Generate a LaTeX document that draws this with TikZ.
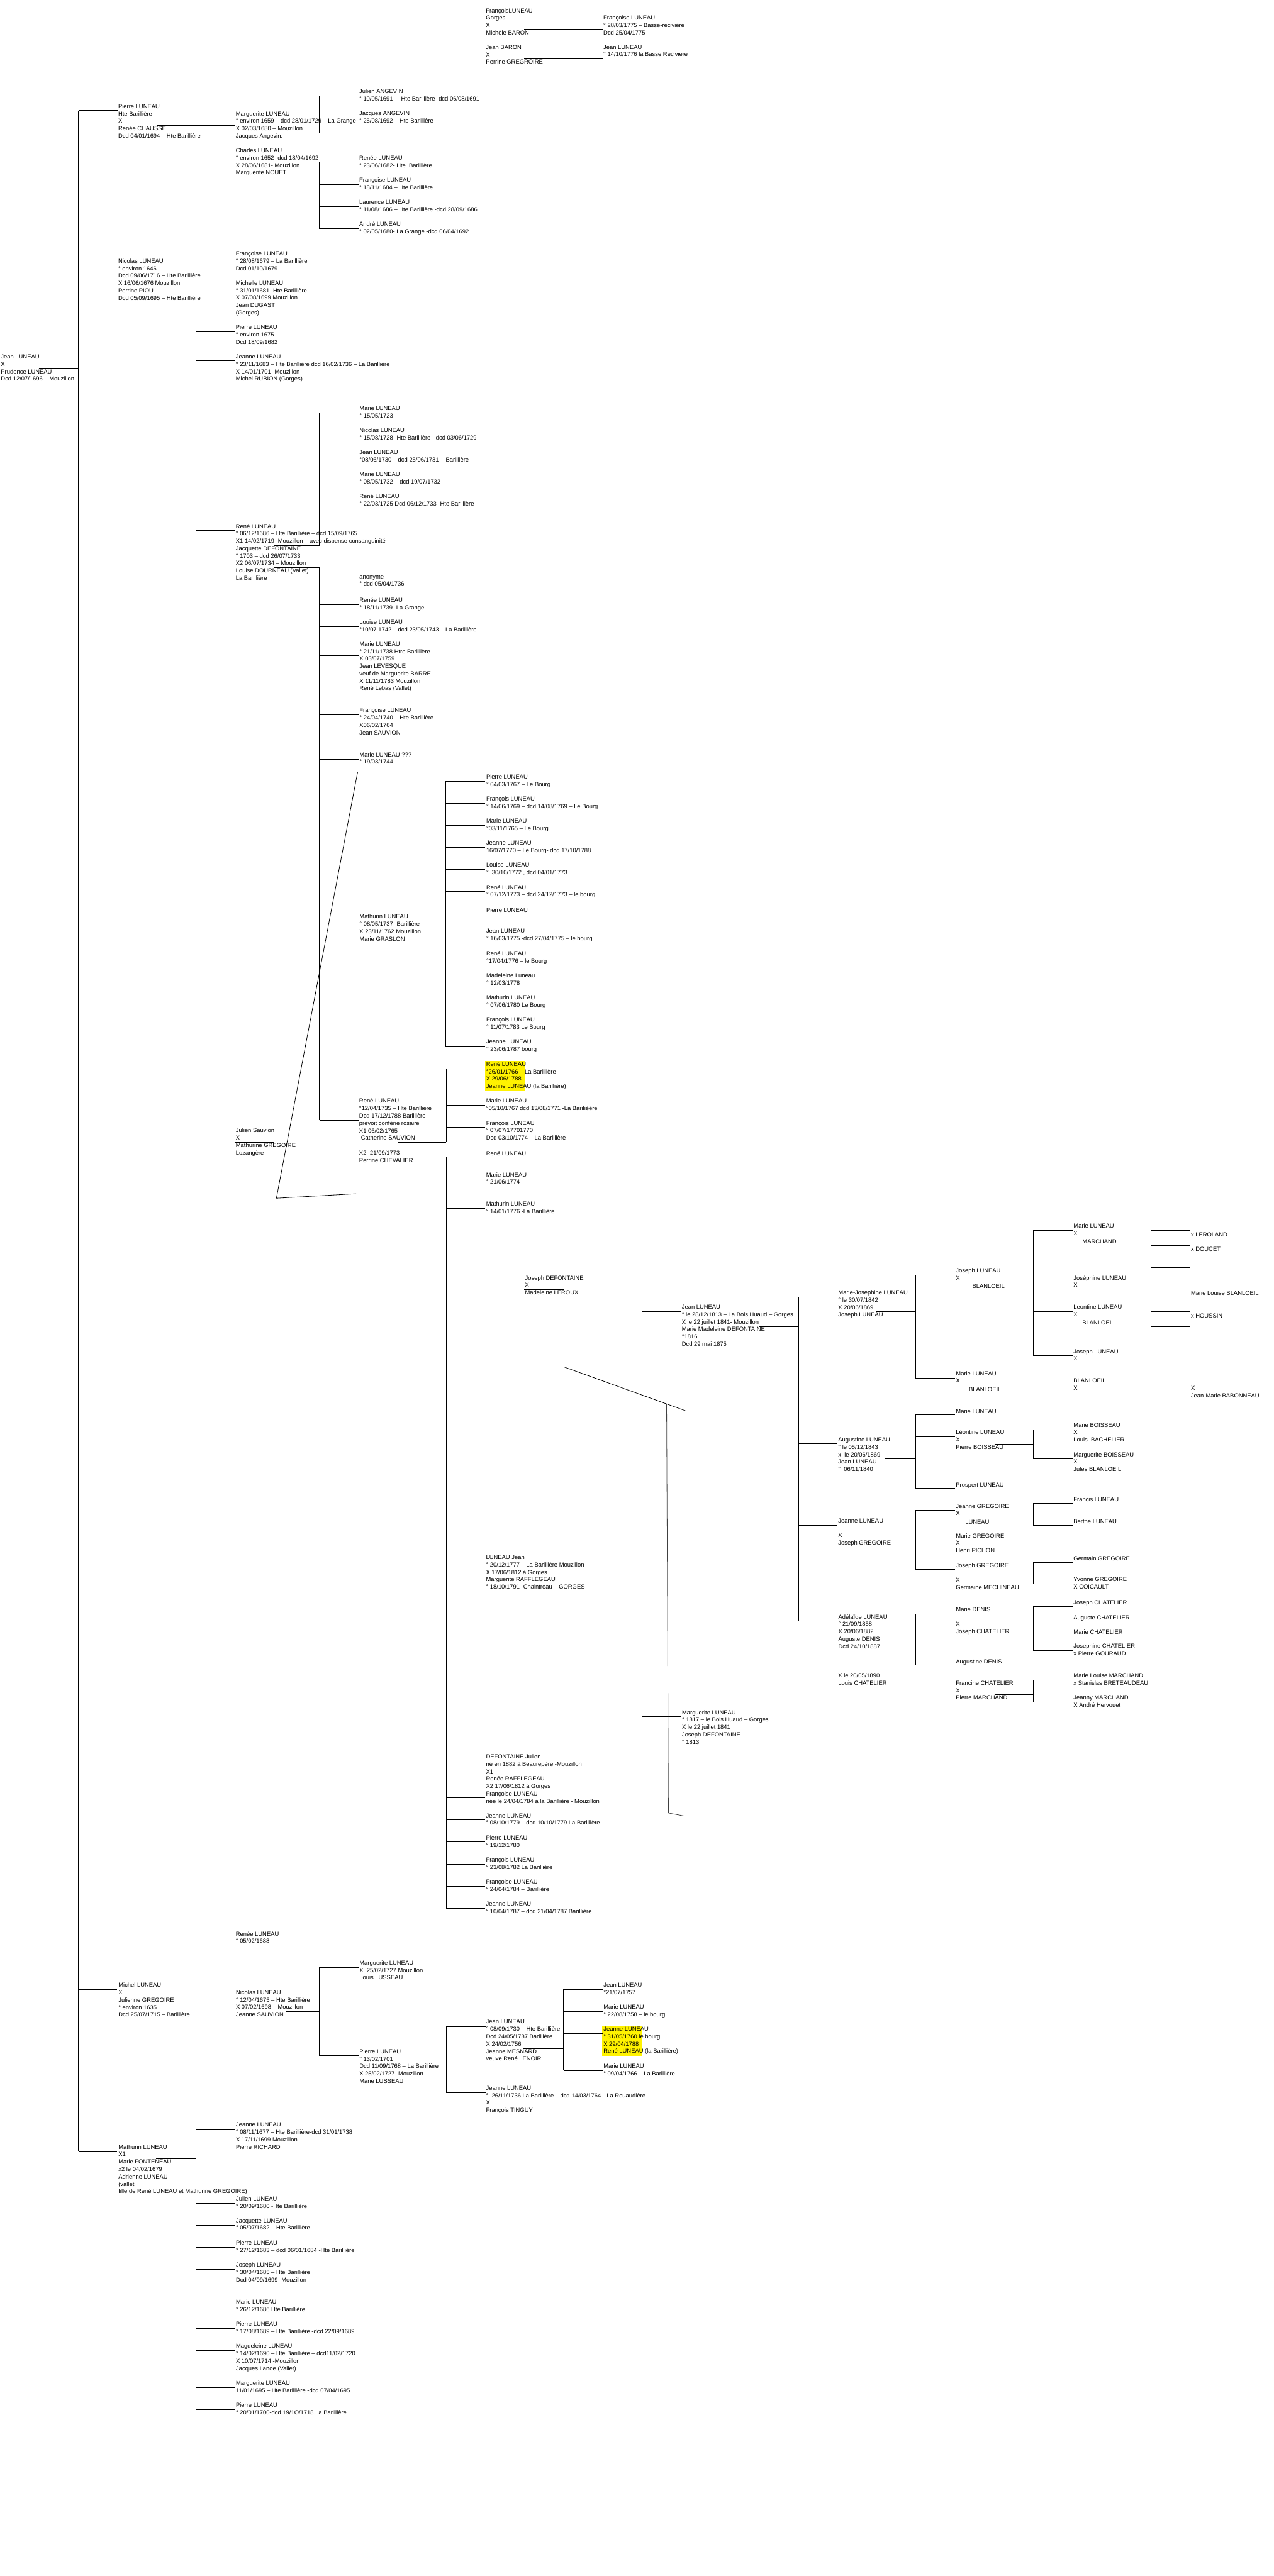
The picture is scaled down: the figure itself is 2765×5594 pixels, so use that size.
\documentclass[tikz,border=0pt]{standalone}
\usepackage{fontspec}
\setmainfont{Liberation Sans}
\newcommand\Hln[3]{\draw[ln] (#2,#1) -- (#3,#1);}
\newcommand\Vln[3]{\draw[ln] (#1,#2) -- (#1,#3);}
\tikzset{
  tx/.style={anchor=north west, inner sep=0pt, outer sep=0pt, align=left,
    font=\fontsize{6.425}{8.035}\selectfont, execute at begin node=\strut, yshift=3.375pt},
  ln/.style={line width=0.65pt, black},
  hlite/.style={fill=yellow}
}
\begin{document}
\begin{tikzpicture}[x=0.5pt,y=-0.5pt]
\fill[white] (0,0) rectangle (2765,5594);
\useasboundingbox (0,0) rectangle (2765,5594);
% highlights
\fill[hlite] (1052.8,2304) rectangle (1139,2369);
\fill[hlite] (1307.6,4400) rectangle (1394.4,4465);

% ---------- top ----------
\node[tx] (tA) at (1055,25) {FrançoisLUNEAU\\Gorges\\X\\Michèle BARON};
\node[tx] (tB) at (1310,40.7) {Françoise LUNEAU\\° 28/03/1775 – Basse-recivière\\Dcd 25/04/1775};
\node[tx] (tC) at (1055,104.7) {Jean BARON\\X\\Perrine GREGROIRE};
\node[tx] (tD) at (1310,104.7) {Jean LUNEAU\\° 14/10/1776 la Basse Recivière};
\Hln{63.7}{1138}{1308.7}
\Hln{127.7}{1138}{1308.7}

% ---------- root ----------
\node[tx] (root) at (2,777) {Jean LUNEAU\\X\\Prudence LUNEAU\\Dcd 12/07/1696 – Mouzillon};
\Hln{800}{84}{170.5}
\Vln{170.5}{240.2}{4672.3}

% ---------- Pierre ----------
\node[tx] (pierre) at (256.8,232.8) {Pierre LUNEAU\\Hte Barillière\\X\\Renée CHAUSSE\\Dcd 04/01/1694 – Hte Barillière};
\Hln{240.2}{170.5}{256.8}
\Hln{272.3}{340}{510}
\Vln{425}{272.3}{352.2}
\node[tx] (marg) at (512,248.9) {Marguerite LUNEAU\\° environ 1659 – dcd 28/01/1729 – La Grange\\X 02/03/1680 – Mouzillon\\Jacques Angevin.};
\Hln{288.4}{596}{693}
\Vln{693}{208.5}{288.4}
\Hln{208.5}{693}{778.7}
\Hln{256.7}{693}{778.7}
\node[tx] (julang) at (780,200.7) {Julien ANGEVIN\\° 10/05/1691 – \ Hte Barillière -dcd 06/08/1691};
\node[tx] (jacang) at (780,248.9) {Jacques ANGEVIN\\° 25/08/1692 – Hte Barillière};
\node[tx] (charles) at (512,328.8) {Charles LUNEAU\\° environ 1652 -dcd 18/04/1692\\X 28/06/1681- Mouzillon\\Marguerite NOUET};
\Hln{352.2}{425}{510}
\Hln{352.2}{600}{778.7}
\Vln{693}{352.2}{495.9}
\foreach \yy in {400.4,448.2,495.9} {\Hln{\yy}{693}{778.7}}
\node[tx] (reneeA) at (780,344.8) {Renée LUNEAU\\° 23/06/1682- Hte \ Barillière};
\node[tx] (francA) at (780,392.6) {Françoise LUNEAU\\° 18/11/1684 – Hte Barillière};
\node[tx] (laur) at (780,440.8) {Laurence LUNEAU\\° 11/08/1686 – Hte Barillière -dcd 28/09/1686};
\node[tx] (andre) at (780,488.6) {André LUNEAU\\° 02/05/1680- La Grange -dcd 06/04/1692};

% ---------- Nicolas ----------
\node[tx] (nico) at (256.8,568.9) {Nicolas LUNEAU\\° environ 1646\\Dcd 09/06/1716 – Hte Barillière\\X 16/06/1676 Mouzillon\\Perrine PIOU\\Dcd 05/09/1695 – Hte Barillière};
\Hln{608}{170.5}{256.8}
\Hln{624}{340}{510}
\Vln{425}{560.7}{4207.9}
\foreach \yy in {560.7,720,783.8,1152,4207.9} {\Hln{\yy}{425}{510.5}}
\node[tx] (francB) at (512,552.9) {Françoise LUNEAU\\° 28/08/1679 – La Barillière\\Dcd 01/10/1679};
\node[tx] (mich) at (512,616.7) {Michelle LUNEAU\\° 31/01/1681- Hte Barillière\\X 07/08/1699 Mouzillon\\Jean DUGAST\\(Gorges)};
\node[tx] (pierB) at (512,712.6) {Pierre LUNEAU\\° environ 1675\\Dcd 18/09/1682};
\node[tx] (jeanB) at (512,777) {Jeanne LUNEAU\\° 23/11/1683 – Hte Barillière dcd 16/02/1736 – La Barillière\\X 14/01/1701 -Mouzillon\\Michel RUBION (Gorges)};
\node[tx] (reneeB) at (512,4201) {Renée LUNEAU\\° 05/02/1688};

% ---------- René (1686) ----------
\node[tx] (rene) at (512,1144.5) {René LUNEAU\\° 06/12/1686 – Hte Barillière – dcd 15/09/1765\\X1 14/02/1719 -Mouzillon – avec dispense consanguinité\\Jacquette DEFONTAINE\\° 1703 – dcd 26/07/1733\\X2 06/07/1734 – Mouzillon\\Louise DOURNEAU (Vallet)\\La Barillière};
\Hln{1184.1}{595.4}{693.2}
\Vln{693.2}{896.4}{1184.1}
\foreach \yy in {896.4,944.1,992.3,1040.5,1088.2} {\Hln{\yy}{693.2}{779.1}}
\node[tx] (r1) at (780.4,888.4) {Marie LUNEAU\\° 15/05/1723};
\node[tx] (r2) at (780.4,936.6) {Nicolas LUNEAU\\° 15/08/1728- Hte Barillière - dcd 03/06/1729};
\node[tx] (r3) at (780.4,984.3) {Jean LUNEAU\\°08/06/1730 – dcd 25/06/1731 - \ Barillière};
\node[tx] (r4) at (780.4,1032.5) {Marie LUNEAU\\° 08/05/1732 – dcd 19/07/1732};
\node[tx] (r5) at (780.4,1080.2) {René LUNEAU\\° 22/03/1725 Dcd 06/12/1733 -Hte Barillière};
\Hln{1232.3}{595.4}{693.2}
\Vln{693.2}{1232.3}{2432.3}
\foreach \yy in {1264.5,1312.7,1360.4,1424.1,1552.7,1648.6,2000,2432.3} {\Hln{\yy}{693.2}{779.1}}
\node[tx] (s1) at (780.4,1256.4) {anonyme\\° dcd 05/04/1736};
\node[tx] (s2) at (780.4,1304.6) {Renée LUNEAU\\° 18/11/1739 -La Grange};
\node[tx] (s3) at (780.4,1352.8) {Louise LUNEAU\\°10/07 1742 – dcd 23/05/1743 – La Barillière};
\node[tx] (s4) at (780.4,1400.5) {Marie LUNEAU\\° 21/11/1738 Htre Barillière\\X 03/07/1759\\Jean LEVESQUE\\veuf de Marguerite BARRE\\X 11/11/1783 Mouzillon\\René Lebas (Vallet)};
\node[tx] (s5) at (780.4,1544.6) {Françoise LUNEAU\\° 24/04/1740 – Hte Barillière\\X06/02/1764\\Jean SAUVION};
\node[tx] (s6) at (780.4,1640.5) {Marie LUNEAU ???\\° 19/03/1744};

% diagonal stroke
\draw[line width=0.55pt] (776.4,1676.3) -- (600,2602) -- (773,2592.3);

% ---------- Mathurin (1737) ----------
\node[tx] (math) at (780.4,1992.7) {Mathurin LUNEAU\\° 08/05/1737 -Barillière\\X 23/11/1762 Mouzillon\\Marie GRASLON};
\Hln{2032.2}{862.9}{968.2}
\Vln{968.2}{1696.7}{2272.2}
\foreach \yy in {1696.7,1744.5,1792.2,1840,1888.2,1936.3,1984.5,2032.2,2080.4,2128.6,2176.3,2224.5,2272.2} {\Hln{\yy}{968.2}{1053.6}}
\node[tx] (m1) at (1055.7,1688.6) {Pierre LUNEAU\\° 04/03/1767 – Le Bourg};
\node[tx] (m2) at (1055.7,1736.7) {François LUNEAU\\° 14/06/1769 – dcd 14/08/1769 – Le Bourg};
\node[tx] (m3) at (1055.7,1784.5) {Marie LUNEAU\\°03/11/1765 – Le Bourg};
\node[tx] (m4) at (1055.7,1832.7) {Jeanne LUNEAU\\16/07/1770 – Le Bourg- dcd 17/10/1788};
\node[tx] (m5) at (1055.7,1880.4) {Louise LUNEAU\\° \ 30/10/1772 , dcd 04/01/1773};
\node[tx] (m6) at (1055.7,1928.6) {René LUNEAU\\° 07/12/1773 – dcd 24/12/1773 – le bourg};
\node[tx] (m7) at (1055.7,1976.3) {Pierre LUNEAU};
\node[tx] (m8) at (1055.7,2024.5) {Jean LUNEAU\\° 16/03/1775 -dcd 27/04/1775 – le bourg};
\node[tx] (m9) at (1055.7,2072.7) {René LUNEAU\\°17/04/1776 – le Bourg};
\node[tx] (m10) at (1055.7,2120.4) {Madeleine Luneau\\° 12/03/1778};
\node[tx] (m11) at (1055.7,2168.6) {Mathurin LUNEAU\\° 07/06/1780 Le Bourg};
\node[tx] (m12) at (1055.7,2216.7) {François LUNEAU\\° 11/07/1783 Le Bourg};
\node[tx] (m13) at (1055.7,2264.5) {Jeanne LUNEAU\\° 23/06/1787 bourg};

% ---------- Julien Sauvion ----------
\node[tx] (jsau) at (512,2456.7) {Julien Sauvion\\X\\Mathurine GREGOIRE\\Lozangère};
\Hln{2480.3}{509.4}{595.7}

% ---------- René (1735) ----------
\node[tx] (r35) at (779.8,2392.7) {René LUNEAU\\°12/04/1735 – Hte Barillière\\Dcd 17/12/1788 Barillière\\prévoit conférie rosaire\\X1 06/02/1765\\\hspace*{2pt}Catherine SAUVION\\\mbox{}\\X2- 21/09/1773\\Perrine CHEVALIER};
\Hln{2480.3}{863.5}{968.6}
\Vln{968.6}{2320.3}{2480.3}
\foreach \yy in {2320.3,2400.3,2448.3} {\Hln{\yy}{968.6}{1053.3}}
\node[tx] (q1) at (1055.4,2312.7) {René LUNEAU\\°26/01/1766 – La Barillière\\X 29/06/1788\\Jeanne LUNEAU (la Barillière)};
\node[tx] (q2) at (1055.4,2392.7) {Marie LUNEAU\\°05/10/1767 dcd 13/08/1771 -La Barilièère};
\node[tx] (q3) at (1055.4,2440.7) {François LUNEAU\\° 07/07/17701770\\Dcd 03/10/1774 – La Barillière};
\Hln{2512.3}{863.5}{1053.3}
\Vln{968.6}{2512.3}{4144.3}
\foreach \yy in {2560.3,2624.3,3392.1,3903.8,3951.5,3999.8,4048,4095.8,4144.3} {\Hln{\yy}{968.6}{1053.3}}
\node[tx] (p1) at (1055.4,2504.7) {René LUNEAU};
\node[tx] (p2) at (1055.4,2552.7) {Marie LUNEAU\\° 21/06/1774};
\node[tx] (p3) at (1055.4,2616.7) {Mathurin LUNEAU\\° 14/01/1776 -La Barillière};
\node[tx] (lj) at (1055.1,3384.4) {LUNEAU Jean\\° 20/12/1777 – La Barillière Mouzillon\\X 17/06/1812 à Gorges\\Marguerite RAFFLEGEAU\\° 18/10/1791 -Chaintreau – GORGES};
\node[tx] (dfj) at (1055.1,3816.6) {DEFONTAINE Julien\\né en 1882 à Beaurepère -Mouzillon\\X1\\Renée RAFFLEGEAU\\X2 17/06/1812 à Gorges\\Françoise LUNEAU\\née le 24/04/1784 à la Barillière - Mouzillon};
\node[tx] (p4) at (1055.1,3945) {Jeanne LUNEAU\\° 08/10/1779 – dcd 10/10/1779 La Barillière};
\node[tx] (p5) at (1055.1,3992.7) {Pierre LUNEAU\\° 19/12/1780};
\node[tx] (p6) at (1055.1,4040.9) {François LUNEAU\\° 23/08/1782 La Barillière};
\node[tx] (p7) at (1055.1,4088.6) {Françoise LUNEAU\\° 24/04/1784 – Barillière};
\node[tx] (p8) at (1055.1,4136.9) {Jeanne LUNEAU\\° 10/04/1787 – dcd 21/04/1787 Barillière};

% ---------- LUNEAU Jean family ----------
\Hln{3423.9}{1222.8}{1393.5}
\Vln{1393.5}{2848}{3727.8}
\Hln{2848}{1393.5}{1478.7}
\Hln{3727.8}{1393.5}{1479.3}
\node[tx] (jdf) at (1139.9,2776.7) {Joseph DEFONTAINE\\X\\Madeleine LEROUX};
\Hln{2800}{1137.7}{1224.2}
\draw[line width=0.55pt] (1224.2,2968.3) -- (1487.6,3063.3);
\draw[line width=0.55pt, black!75] (1447,3049) -- (1451,3937) -- (1484,3943.3);
\node[tx] (j13) at (1480.2,2840.7) {Jean LUNEAU\\° le 28/12/1813 – La Bois Huaud – Gorges\\X le 22 juillet 1841- Mouzillon\\Marie Madeleine DEFONTAINE\\°1816\\Dcd 29 mai 1875};
\node[tx] (mg17) at (1480.5,3720.6) {Marguerite LUNEAU\\° 1817 – le Bois Huaud – Gorges\\X le 22 juillet 1841\\Joseph DEFONTAINE\\° 1813};
\Hln{2880.3}{1648.1}{1733.2}
\Vln{1733.2}{2816.3}{3520.1}
\foreach \yy in {2816.3,3135.4,3312.3,3520.1} {\Hln{\yy}{1733.2}{1818.4}}

% Marie-Josephine
\node[tx] (mj) at (1819.8,2808.7) {Marie-Josephine LUNEAU\\° le 30/07/1842\\X 20/06/1869\\Joseph LUNEAU};
\Hln{2848.3}{1903}{1987.7}
\Vln{1987.7}{2768.3}{2992.3}
\Hln{2768.3}{1987.7}{2073.2}
\Hln{2992.3}{1987.7}{2073.2}
\node[tx] (jl1) at (2075.1,2760.7) {Joseph LUNEAU\\X};
\node[tx] (jl1b) at (2110.8,2792.7) {BLANLOEIL};
\Hln{2784.3}{2158.8}{2328}
\Vln{2243.1}{2672.3}{2944}
\foreach \yy in {2672.3,2848.3,2944} {\Hln{\yy}{2243.1}{2328}}
\node[tx] (ml1) at (2330.5,2664.3) {Marie LUNEAU\\X};
\node[tx] (ml1b) at (2349.6,2696.7) {MARCHAND};
\Hln{2688.3}{2413}{2498.5}
\Vln{2498.5}{2672.3}{2704.3}
\Hln{2672.3}{2498.5}{2583.4}
\Hln{2704.3}{2498.5}{2583.4}
\node[tx] (lerol) at (2585.3,2680.7) {x LEROLAND};
\node[tx] (douc) at (2585.3,2712.7) {x DOUCET};
\node[tx] (jos1) at (2330.5,2776.7) {Joséphine LUNEAU\\X};
\Hln{2768.3}{2413}{2498.5}
\Vln{2498.5}{2752.7}{2784.3}
\Hln{2752.7}{2498.5}{2583.4}
\Hln{2784.3}{2498.5}{2583.4}
\node[tx] (leo1) at (2330.5,2840.7) {Leontine LUNEAU\\X};
\node[tx] (leo1b) at (2349.6,2872.7) {BLANLOEIL};
\Hln{2864.3}{2413}{2498.5}
\Vln{2498.5}{2816.7}{2912.3}
\foreach \yy in {2816.7,2848.3,2880.3,2912.3} {\Hln{\yy}{2498.5}{2583.4}}
\node[tx] (mlb) at (2585.3,2808.7) {Marie Louise BLANLOEIL};
\node[tx] (hous) at (2585.3,2856.7) {x HOUSSIN};
\node[tx] (jl2) at (2330.5,2936.7) {Joseph LUNEAU\\X};
\node[tx] (ml2) at (2075.1,2984.3) {Marie LUNEAU\\X};
\node[tx] (ml2b) at (2103.4,3016.7) {BLANLOEIL};
\Hln{3008.3}{2158.8}{2328}
\node[tx] (bl2) at (2330.5,3000.3) {BLANLOEIL\\X};
\Hln{3008.3}{2413}{2583.4}
\node[tx] (bab) at (2585.3,3016.7) {X\\Jean-Marie BABONNEAU};

% Augustine
\node[tx] (aug) at (1819.7,3128.5) {Augustine LUNEAU\\° le 05/12/1843\\x \ le 20/06/1869\\Jean LUNEAU\\° \ 06/11/1840};
\Hln{3168.4}{1920}{1987.7}
\Vln{1987.7}{3072.1}{3232.1}
\foreach \yy in {3072.1,3120.2,3232.1} {\Hln{\yy}{1987.7}{2073.2}}
\node[tx] (ml3) at (2075.1,3064.7) {Marie LUNEAU};
\node[tx] (leo2) at (2075.1,3112.4) {Léontine LUNEAU\\X\\Pierre BOISSEAU};
\node[tx] (pros) at (2075.1,3224.7) {Prospert LUNEAU};
\Hln{3136.3}{2158.8}{2243.1}
\Vln{2243.1}{3104.6}{3168.4}
\Hln{3104.6}{2243.1}{2328}
\Hln{3168.4}{2243.1}{2328}
\node[tx] (mbo) at (2330.5,3096.4) {Marie BOISSEAU\\X\\Louis \ BACHELIER};
\node[tx] (mgbo) at (2330.5,3160.6) {Marguerite BOISSEAU\\X\\Jules BLANLOEIL};

% Jeanne
\node[tx] (jea) at (1819.7,3304.5) {Jeanne LUNEAU\\\mbox{}\\X\\Joseph GREGOIRE};
\Hln{3344.4}{1920}{2073.2}
\Vln{1987.7}{3280.3}{3408.6}
\Hln{3280.3}{1987.7}{2073.2}
\Hln{3408.6}{1987.7}{2073.2}
\node[tx] (jgr) at (2075.1,3272.9) {Jeanne GREGOIRE\\X};
\node[tx] (jgrb) at (2095.4,3304.9) {LUNEAU};
\Hln{3296.3}{2158.8}{2243.1}
\Vln{2243.1}{3264.6}{3312.3}
\Hln{3264.6}{2243.1}{2328}
\Hln{3312.3}{2243.1}{2328}
\node[tx] (fran) at (2330.5,3256.8) {Francis LUNEAU};
\node[tx] (bert) at (2330.5,3304.5) {Berthe LUNEAU};
\node[tx] (mgr) at (2075.1,3336.6) {Marie GREGOIRE\\X\\Henri PICHON};
\node[tx] (josg) at (2075.1,3400.8) {Joseph GREGOIRE\\\mbox{}\\X\\Germaine MECHINEAU};
\Hln{3424.2}{2158.8}{2243.1}
\Vln{2243.1}{3392.6}{3439.8}
\Hln{3392.6}{2243.1}{2328}
\Hln{3439.8}{2243.1}{2328}
\node[tx] (germ) at (2330.5,3384.8) {Germain GREGOIRE};
\node[tx] (yvo) at (2330.5,3432.5) {Yvonne GREGOIRE\\X COICAULT};

% Adelaide
\node[tx] (ade) at (1820,3512.7) {Adélaïde LUNEAU\\° 21/09/1858\\X 20/06/1882\\Auguste DENIS\\Dcd 24/10/1887};
\Hln{3552.2}{1920}{1987.7}
\Vln{1987.7}{3504.5}{3615.9}
\Hln{3504.5}{1987.7}{2073.2}
\Hln{3615.9}{1987.7}{2073.2}
\node[tx] (mden) at (2075.1,3496.7) {Marie DENIS\\\mbox{}\\X\\Joseph CHATELIER};
\Hln{3520.1}{2158.8}{2243.1}
\Vln{2243.1}{3488}{3584.3}
\foreach \yy in {3488,3520.1,3552.2,3584.3} {\Hln{\yy}{2243.1}{2328}}
\node[tx] (jch) at (2330.5,3480.6) {Joseph CHATELIER};
\node[tx] (ach) at (2330.5,3512.7) {Auguste CHATELIER};
\node[tx] (mch) at (2330.5,3544.8) {Marie CHATELIER};
\node[tx] (jsch) at (2330.5,3576.9) {Josephine CHATELIER\\x Pierre GOURAUD};
\node[tx] (aden) at (2075.1,3608.5) {Augustine DENIS};
\node[tx] (lch) at (1819.7,3640.6) {X le 20/05/1890\\Louis CHATELIER};
\Hln{3648.4}{1920}{2073.2}
\node[tx] (fch) at (2075.1,3656.7) {Francine CHATELIER\\X\\Pierre MARCHAND};
\Hln{3680.1}{2158.8}{2243.1}
\Vln{2243.1}{3648.4}{3696.1}
\Hln{3648.4}{2243.1}{2328}
\Hln{3696.1}{2243.1}{2328}
\node[tx] (mlm) at (2330.5,3640.6) {Marie Louise MARCHAND\\x Stanislas BRETEAUDEAU};
\node[tx] (jym) at (2330.5,3688.8) {Jeanny MARCHAND\\X André Hervouet};

% ---------- Michel ----------
\node[tx] (michel) at (257.2,4312.7) {Michel LUNEAU\\X\\Julienne GREGOIRE\\° environ 1635\\Dcd 25/07/1715 – Barillière};
\Hln{4320}{170.5}{254.6}
\Hln{4336.3}{338.8}{510.5}
\node[tx] (nicB) at (512.3,4328.7) {Nicolas LUNEAU\\° 12/04/1675 – Hte Barillière\\X 07/02/1698 – Mouzillon\\Jeanne SAUVION};
\Hln{4368.3}{620.7}{692.7}
\Vln{692.7}{4272.3}{4464.3}
\Hln{4272.3}{692.7}{778.5}
\Hln{4464.3}{692.7}{778.5}
\node[tx] (mgC) at (780.3,4264.3) {Marguerite LUNEAU\\X \ 25/02/1727 Mouzillon\\Louis LUSSEAU};
\node[tx] (piC) at (780.3,4457) {Pierre LUNEAU\\° 13/02/1701\\Dcd 11/09/1768 – La Barillière\\X 25/02/1727 -Mouzillon\\Marie LUSSEAU};
\Vln{968.5}{4400.3}{4544.3}
\Hln{4400.3}{968.5}{1054.4}
\Hln{4544.3}{968.5}{1054.4}
\node[tx] (jnC) at (1055.2,4392.7) {Jean LUNEAU\\° 08/09/1730 – Hte Barillière\\Dcd 24/05/1787 Barillière\\X 24/02/1756\\Jeanne MESNARD\\veuve René LENOIR};
\Hln{4448.3}{1136.8}{1223.5}
\Vln{1223.5}{4320}{4496.3}
\foreach \yy in {4320,4368.3,4416.3,4496.3} {\Hln{\yy}{1223.5}{1308.5}}
\node[tx] (c1) at (1310.2,4312.7) {Jean LUNEAU\\°21/07/1757};
\node[tx] (c2) at (1310.2,4360.7) {Marie LUNEAU\\° 22/08/1758 – le bourg};
\node[tx] (c3) at (1310.2,4408.7) {Jeanne LUNEAU\\° 31/05/1760 le bourg\\X 29/04/1788\\René LUNEAU (la Barillière)};
\node[tx] (c4) at (1310.2,4488.7) {Marie LUNEAU\\° 09/04/1766 – La Barillière};
\node[tx] (jeC) at (1055.2,4536.7) {Jeanne LUNEAU\\° \ 26/11/1736 La Barillière\hspace{7pt}dcd 14/03/1764\hspace{4pt}-La Rouaudière\\X\\François TINGUY};

% ---------- Mathurin (root child) ----------
\node[tx] (matR) at (257.2,4664.3) {Mathurin LUNEAU\\X1\\Marie FONTENEAU\\x2 le 04/02/1679\\Adrienne LUNEAU\\(vallet\\fille de René LUNEAU et Mathurine GREGOIRE)};
\Hln{4672.3}{170.5}{254.6}
\Hln{4688.3}{338.8}{425.5}
\Hln{4720.4}{338.8}{425.5}
\Vln{425.5}{4624.3}{5232.1}
\foreach \yy in {4624.3,4784.3,4832.1,4880.4,4927.9,5007.9,5056.1,5103.9,5184.3,5232.1} {\Hln{\yy}{425.5}{510.5}}
\node[tx] (d1) at (512.3,4616.7) {Jeanne LUNEAU\\° 08/11/1677 – Hte Barillière-dcd 31/01/1738\\X 17/11/1699 Mouzillon\\Pierre RICHARD};
\node[tx] (d2) at (512.3,4776.8) {Julien LUNEAU\\° 20/09/1680 -Hte Barillière};
\node[tx] (d3) at (512.3,4824.6) {Jacquette LUNEAU\\° 05/07/1682 – Hte Barillière};
\node[tx] (d4) at (512.3,4872.9) {Pierre LUNEAU\\° 27/12/1683 – dcd 06/01/1684 -Hte Barillière};
\node[tx] (d5) at (512.3,4920.7) {Joseph LUNEAU\\° 30/04/1685 – Hte Barillière\\Dcd 04/09/1699 -Mouzillon};
\node[tx] (d6) at (512.3,5000.7) {Marie LUNEAU\\° 26/12/1686 Hte Barillière};
\node[tx] (d7) at (512.3,5048.6) {Pierre LUNEAU\\° 17/08/1689 – Hte Barillière -dcd 22/09/1689};
\node[tx] (d8) at (512.3,5096.8) {Magdeleine LUNEAU\\° 14/02/1690 – Hte Barillière – dcd11/02/1720\\X 10/07/1714 -Mouzillon\\Jacques Lanoe (Vallet)};
\node[tx] (d9) at (512.3,5176.8) {Marguerite LUNEAU\\11/01/1695 – Hte Barillière -dcd 07/04/1695};
\node[tx] (d10) at (512.3,5224.6) {Pierre LUNEAU\\° 20/01/1700-dcd 19/1O/1718 La Barillière};
\end{tikzpicture}
\end{document}
